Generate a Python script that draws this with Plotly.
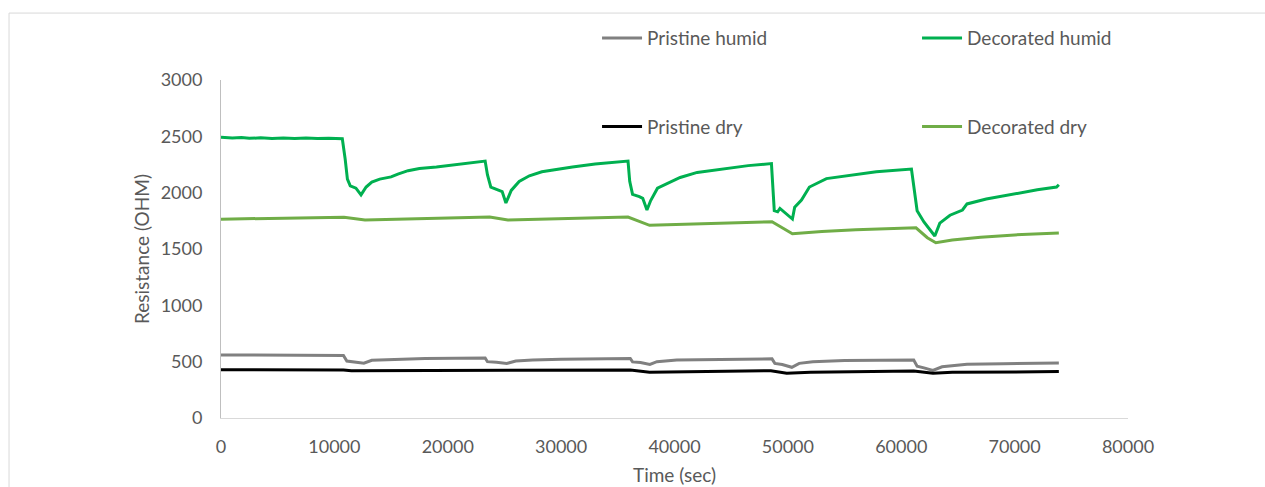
import plotly.graph_objects as go

# ---- data (time in s, resistance in ohm) ----
t_dec_humid = [0, 1000, 1800, 2500, 3500, 4500, 5500, 6500, 7500, 8500, 9500, 10700,
               10950, 11150, 11400, 11900, 12350, 12800, 13300, 14000, 15000, 15600,
               16500, 17500, 19000, 20000, 21500, 23300, 23500, 23800, 24300, 24800,
               25130, 25600, 26300, 27200, 28300, 29500, 31000, 33000, 35900, 36050,
               36300, 36900, 37200, 37570, 37900, 38500, 39500, 40500, 42000, 44500,
               46500, 48550, 48700, 48800, 49100, 49300, 50400, 50600, 51200, 51900,
               53400, 55700, 57800, 60900, 61150, 61400, 62000, 62500, 62960, 63400,
               64300, 65400, 65800, 67500, 70200, 72000, 73700, 73900]
r_dec_humid = [2492, 2486, 2489, 2482, 2487, 2481, 2486, 2480, 2486, 2481, 2484, 2479,
               2300, 2120, 2060, 2040, 1980, 2050, 2094, 2120, 2140, 2165,
               2195, 2215, 2228, 2240, 2262, 2280, 2160, 2050, 2030, 2010,
               1908, 2020, 2100, 2150, 2185, 2205, 2228, 2255, 2280, 2100,
               1985, 1965, 1950, 1846, 1930, 2040, 2085, 2135, 2180, 2215,
               2240, 2258, 1990, 1840, 1830, 1860, 1766, 1870, 1934, 2050,
               2125, 2156, 2185, 2210, 2010, 1840, 1740, 1680, 1615, 1730,
               1800, 1846, 1900, 1943, 1996, 2025, 2050, 2070]

t_dec_dry = [0, 10850, 12700, 23700, 25300, 35900, 37800, 48600, 50400, 53000, 56000,
             61300, 62300, 63050, 64500, 67000, 70000, 73900]
r_dec_dry = [1765, 1782, 1757, 1784, 1757, 1784, 1710, 1742, 1635, 1655, 1670,
             1688, 1600, 1555, 1580, 1605, 1625, 1643]

t_pri_humid = [0, 10800, 11100, 11600, 12600, 13300, 15000, 18000, 23300, 23500, 24300,
               25200, 26000, 27500, 30000, 36100, 36300, 37000, 37830, 38450, 40200,
               44000, 48600, 48850, 49500, 50350, 51000, 52200, 55000, 61100, 61400,
               62000, 62790, 63600, 65800, 69000, 73900]
r_pri_humid = [560, 555, 505, 498, 486, 512, 520, 528, 533, 500, 494,
               484, 505, 515, 522, 528, 498, 492, 476, 500, 515,
               520, 525, 485, 475, 450, 485, 500, 510, 515, 460,
               445, 422, 455, 476, 482, 488]

t_pri_dry = [0, 10800, 11500, 23400, 24500, 36100, 37800, 48500, 49900, 52000, 61100,
             62800, 64500, 73900]
r_pri_dry = [428, 427, 420, 424, 418, 425, 407, 420, 398, 405, 417, 397, 405, 412]

x_ticks = [0, 10000, 20000, 30000, 40000, 50000, 60000, 70000, 80000]
y_ticks = [0, 500, 1000, 1500, 2000, 2500, 3000]

FONT = "Lato"
TXT = "#595959"

fig = go.Figure()
fig.add_trace(go.Scatter(x=t_pri_humid, y=r_pri_humid, mode="lines", name="Pristine humid",
                         line=dict(color="#808080", width=3), legend="legend", showlegend=True))
fig.add_trace(go.Scatter(x=t_pri_dry, y=r_pri_dry, mode="lines", name="Pristine dry",
                         line=dict(color="#000000", width=3), legend="legend3", showlegend=True))
fig.add_trace(go.Scatter(x=t_dec_dry, y=r_dec_dry, mode="lines", name="Decorated dry",
                         line=dict(color="#70AD47", width=3), legend="legend4", showlegend=True))
fig.add_trace(go.Scatter(x=t_dec_humid, y=r_dec_humid, mode="lines", name="Decorated humid",
                         line=dict(color="#00B050", width=3), legend="legend2", showlegend=True))

leg_common = dict(font=dict(family=FONT, size=19, color=TXT), bgcolor="rgba(0,0,0,0)",
                  borderwidth=0, xanchor="left", yanchor="middle", itemwidth=40, visible=True)
fig.update_layout(
    width=1265, height=487,
    margin=dict(l=221, r=137, t=80, b=69),
    paper_bgcolor="white", plot_bgcolor="white",
    font=dict(family=FONT, color=TXT),
    showlegend=True,
    legend=dict(x=0.4146, y=1.124, **leg_common),
    legend2=dict(x=0.7674, y=1.124, **leg_common),
    legend3=dict(x=0.4146, y=0.862, **leg_common),
    legend4=dict(x=0.7674, y=0.862, **leg_common),
    xaxis=dict(range=[0, 80000], tickvals=x_ticks, ticktext=[str(v) for v in x_ticks],
               showgrid=False, zeroline=False, showline=True, linecolor="#d9d9d9", linewidth=1,
               ticks="", tickfont=dict(family=FONT, size=18, color=TXT),
               ticklabelstandoff=12, automargin=False,
               title=dict(text="Time (sec)", font=dict(family=FONT, size=19, color=TXT), standoff=13)),
    yaxis=dict(range=[0, 3000], tickvals=y_ticks, ticktext=[str(v) for v in y_ticks],
               showgrid=False, zeroline=False, showline=True, linecolor="#bfbfbf", linewidth=1,
               ticks="", tickfont=dict(family=FONT, size=18, color=TXT),
               ticklabelstandoff=14, automargin=False,
               title=dict(text="Resistance (OHM)", font=dict(family=FONT, size=19, color=TXT), standoff=5)),
    shapes=[dict(type="rect", xref="paper", yref="paper", x0=-0.2337, x1=1.25, y0=-0.3, y1=1.198,
                 line=dict(color="#d9d9d9", width=1), fillcolor="rgba(0,0,0,0)", layer="below")],
)
fig.write_html("out.html")
